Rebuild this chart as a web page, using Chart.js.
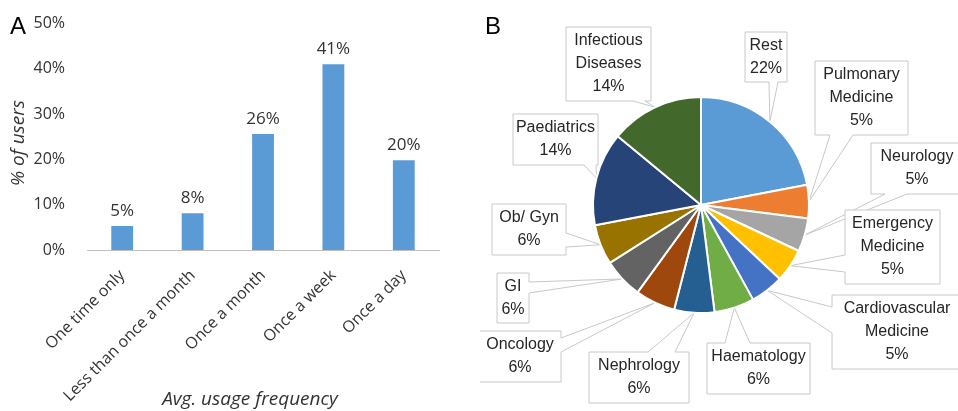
<!DOCTYPE html>
<html>
<head>
<meta charset="utf-8">
<script src="https://cdn.jsdelivr.net/npm/chart.js@4/dist/chart.umd.min.js"></script>
<style>
  body { margin: 0; background: #fff; }
  #wrap { position: relative; width: 958px; height: 411px; overflow: hidden; }
  #barChart { position: absolute; left: 0; top: 0; }
  #pieChart { position: absolute; left: 480px; top: 0; }
</style>
</head>
<body>
<div id="wrap">
  <canvas id="barChart" width="480" height="411"></canvas>
  <canvas id="pieChart" width="478" height="411"></canvas>
</div>
<script>
// Panel A data
const freqLabels = ['One time only', 'Less than once a month', 'Once a month', 'Once a week', 'Once a day'];
const freqValues = [5.3, 8.1, 25.6, 41.0, 19.8];
const freqShown = ['5%', '8%', '26%', '41%', '20%'];

// Panel B data
const specialtyNames = [
    ['Rest'], ['Pulmonary', 'Medicine'], ['Neurology'], ['Emergency', 'Medicine'],
    ['Cardiovascular', 'Medicine'], ['Haematology'], ['Nephrology'], ['Oncology'],
    ['GI'], ['Ob/ Gyn'], ['Paediatrics'], ['Infectious', 'Diseases']
];
const specialtyValues = [22, 5, 5, 5, 5, 6, 6, 6, 6, 6, 14, 14];
const specialtyColors = ['#5B9BD5', '#ED7D31', '#A5A5A5', '#FFC000', '#4472C4', '#70AD47',
    '#255E91', '#9E480E', '#636363', '#997300', '#264478', '#43682B'];

// callout boxes (page coordinates) and the side the pointer leaves from
const calloutBoxes = [
    { x: 745, y: 32, w: 42, h: 50, side: 'bottom', a: 769, b: 778 },
    { x: 815, y: 61, w: 93, h: 74, side: 'bottom', a: 830, b: 853 },
    { x: 871, y: 143, w: 92, h: 51, side: 'bottom', a: 885, b: 907 },
    { x: 845, y: 210, w: 95, h: 74, side: 'left', a: 255, b: 272 },
    { x: 832, y: 295, w: 130, h: 74, side: 'left', a: 307, b: 333 },
    { x: 707, y: 343, w: 103, h: 51, side: 'top', a: 725, b: 750 },
    { x: 589, y: 352, w: 100, h: 51, side: 'top', a: 648, b: 675 },
    { x: 479, y: 331, w: 82, h: 51, side: 'right', a: 338, b: 352 },
    { x: 497, y: 273, w: 32, h: 50, side: 'right', a: 282, b: 293 },
    { x: 492, y: 204, w: 74, h: 51, side: 'right', a: 233, b: 247 },
    { x: 513, y: 114, w: 85, h: 51, side: 'bottom', a: 584, b: 596 },
    { x: 566, y: 27, w: 85, h: 74, side: 'bottom', a: 633, b: 645 }
];

const FONT = '"Open Sans", "Liberation Sans", sans-serif';
const PIE_FONT = '"Liberation Sans", Arial, sans-serif';
const TEXT = '#333333';

const barExtras = {
    id: 'barExtras',
    afterDatasetsDraw(chart) {
        const ctx = chart.ctx;
        const bars = chart.getDatasetMeta(0).data;
        ctx.save();
        ctx.font = '17px ' + FONT;
        ctx.fillStyle = TEXT;
        ctx.textAlign = 'center';
        ctx.textBaseline = 'alphabetic';
        bars.forEach((bar, i) => {
            ctx.fillText(freqShown[i], bar.x, bar.y - 10);
        });
        // panel letter and axis titles
        ctx.font = '24px "Liberation Sans", sans-serif';
        ctx.fillStyle = '#000';
        ctx.textAlign = 'left';
        ctx.fillText('A', 10, 34);
        ctx.font = 'italic 19px ' + FONT;
        ctx.fillStyle = TEXT;
        ctx.textAlign = 'center';
        ctx.textBaseline = 'middle';
        ctx.fillText('Avg. usage frequency', 250, 400);
        ctx.translate(19, 143);
        ctx.rotate(-Math.PI / 2);
        ctx.fillText('% of users', 0, 0);
        ctx.restore();
    }
};

new Chart(document.getElementById('barChart'), {
    type: 'bar',
    data: {
        labels: freqLabels,
        datasets: [{
            data: freqValues,
            backgroundColor: '#5B9BD5',
            barPercentage: 0.31,
            categoryPercentage: 1
        }]
    },
    options: {
        responsive: false,
        animation: false,
        layout: { padding: { top: 20, right: 41, left: 0, bottom: 0 } },
        plugins: { legend: { display: false }, tooltip: { enabled: false } },
        scales: {
            y: {
                min: 0, max: 50,
                ticks: { stepSize: 10, callback: v => v + '%', color: TEXT, font: { size: 16, family: FONT }, padding: 14 },
                grid: { display: false },
                border: { display: false },
                afterFit: s => { s.width = 87; }
            },
            x: {
                ticks: { minRotation: 45, maxRotation: 45, color: TEXT, font: { size: 16, family: FONT }, padding: 8 },
                grid: { display: false },
                border: { display: true, color: '#BFBFBF', width: 1 },
                afterFit: s => { s.height = 161; }
            }
        }
    },
    plugins: [barExtras]
});

const OFFSET_X = 480;

const callouts = {
    id: 'callouts',
    beforeDatasetsDraw(chart) {
        const ctx = chart.ctx;
        const arcs = chart.getDatasetMeta(0).data;
        ctx.save();
        arcs.forEach((arc, i) => {
            const p = arc.getProps(['x', 'y', 'startAngle', 'endAngle', 'outerRadius'], true);
            const mid = (p.startAngle + p.endAngle) / 2;
            const tx = p.x + Math.cos(mid) * p.outerRadius;
            const ty = p.y + Math.sin(mid) * p.outerRadius;
            const c = calloutBoxes[i];
            const x = c.x - OFFSET_X, y = c.y, w = c.w, h = c.h;
            const a = c.side === 'top' || c.side === 'bottom' ? c.a - OFFSET_X : c.a;
            const b = c.side === 'top' || c.side === 'bottom' ? c.b - OFFSET_X : c.b;
            ctx.beginPath();
            if (c.side === 'bottom') {
                ctx.moveTo(x, y); ctx.lineTo(x + w, y); ctx.lineTo(x + w, y + h);
                ctx.lineTo(b, y + h); ctx.lineTo(tx, ty); ctx.lineTo(a, y + h); ctx.lineTo(x, y + h);
            } else if (c.side === 'top') {
                ctx.moveTo(x, y); ctx.lineTo(a, y); ctx.lineTo(tx, ty); ctx.lineTo(b, y);
                ctx.lineTo(x + w, y); ctx.lineTo(x + w, y + h); ctx.lineTo(x, y + h);
            } else if (c.side === 'left') {
                ctx.moveTo(x, y); ctx.lineTo(x + w, y); ctx.lineTo(x + w, y + h); ctx.lineTo(x, y + h);
                ctx.lineTo(x, b); ctx.lineTo(tx, ty); ctx.lineTo(x, a);
            } else {
                ctx.moveTo(x, y); ctx.lineTo(x + w, y); ctx.lineTo(x + w, a); ctx.lineTo(tx, ty);
                ctx.lineTo(x + w, b); ctx.lineTo(x + w, y + h); ctx.lineTo(x, y + h);
            }
            ctx.closePath();
            ctx.fillStyle = '#fff';
            ctx.fill();
            ctx.strokeStyle = '#C8C8C8';
            ctx.lineWidth = 1;
            ctx.stroke();

            const lines = specialtyNames[i].concat([specialtyValues[i] + '%']);
            ctx.fillStyle = '#262626';
            ctx.font = '16px ' + PIE_FONT;
            ctx.textAlign = 'center';
            ctx.textBaseline = 'middle';
            const cy = y + h / 2 - (lines.length - 1) * 23 / 2;
            lines.forEach((t, k) => ctx.fillText(t, x + w / 2, cy + k * 23));
        });
        ctx.font = '24px "Liberation Sans", sans-serif';
        ctx.fillStyle = '#000';
        ctx.textAlign = 'left';
        ctx.textBaseline = 'alphabetic';
        ctx.fillText('B', 5, 34);
        ctx.restore();
    }
};

new Chart(document.getElementById('pieChart'), {
    type: 'pie',
    data: {
        labels: specialtyNames.map(n => n.join(' ')),
        datasets: [{
            data: specialtyValues,
            backgroundColor: specialtyColors,
            borderColor: '#fff',
            borderWidth: 2
        }]
    },
    options: {
        responsive: false,
        animation: false,
        layout: { padding: { left: 112, right: 148, top: 96, bottom: 97 } },
        plugins: { legend: { display: false }, tooltip: { enabled: false } }
    },
    plugins: [callouts]
});
</script>
</body>
</html>
